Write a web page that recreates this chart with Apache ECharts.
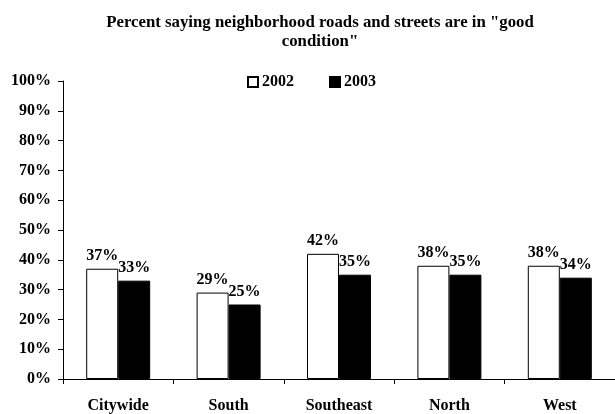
<!DOCTYPE html>
<html>
<head>
<meta charset="utf-8">
<script src="https://cdn.jsdelivr.net/npm/echarts@6/dist/echarts.min.js"></script>
<style>
  html, body { margin: 0; padding: 0; background: #fff; }
  #chart { width: 615px; height: 414px; }
</style>
</head>
<body>
<div id="chart"></div>
<script>
// Neighborhood survey: share rating roads and streets as "good condition"
const categories = ['Citywide', 'South', 'Southeast', 'North', 'West'];
const values2002 = [37, 29, 42, 38, 38];
const values2003 = [33, 25, 35, 35, 34];
const yTicks = [0, 10, 20, 30, 40, 50, 60, 70, 80, 90, 100];

const serif = '"Liberation Serif", "Times New Roman", serif';

const chart = echarts.init(document.getElementById('chart'));

const labelStyle = {
  show: true,
  position: 'top',
  distance: 5,
  formatter: p => p.value + '%',
  fontFamily: serif,
  fontWeight: 'bold',
  fontSize: 16,
  color: '#000'
};

chart.setOption({
  animation: false,
  title: {
    text: 'Percent saying neighborhood roads and streets are in "good\ncondition"',
    left: 315,
    textAlign: 'center',
    top: 8,
    textStyle: {
      fontFamily: serif,
      fontWeight: 'bold',
      fontSize: 16.8,
      lineHeight: 19,
      color: '#000'
    }
  },
  legend: {
    data: ['2002', '2003'],
    left: 242,
    top: 69,
    itemWidth: 10,
    itemHeight: 10,
    itemGap: 35,
    icon: 'rect',
    textStyle: {
      fontFamily: serif,
      fontWeight: 'bold',
      fontSize: 16,
      color: '#000',
      padding: [0, 0, 0, -1]
    }
  },
  grid: {
    left: 63,
    top: 81,
    width: 555,
    height: 301,
    containLabel: false
  },
  xAxis: {
    type: 'category',
    data: categories,
    boundaryGap: true,
    axisLine: { lineStyle: { color: '#000', width: 1 } },
    axisTick: { show: true, alignWithLabel: false, length: 5, lineStyle: { color: '#000' } },
    axisLabel: {
      margin: 19,
      fontFamily: serif,
      fontWeight: 'bold',
      fontSize: 16,
      color: '#000'
    }
  },
  yAxis: {
    type: 'value',
    min: yTicks[0],
    max: yTicks[yTicks.length - 1],
    interval: 10,
    splitLine: { show: false },
    axisLine: { show: true, lineStyle: { color: '#000', width: 1 } },
    axisTick: { show: true, length: 5, lineStyle: { color: '#000' } },
    axisLabel: {
      margin: 12,
      formatter: v => v + '%',
      fontFamily: serif,
      fontWeight: 'bold',
      fontSize: 16,
      color: '#000'
    }
  },
  series: [
    {
      name: '2002',
      type: 'bar',
      data: values2002,
      barWidth: 32,
      barGap: '0%',
      itemStyle: { color: '#fff', borderColor: '#000', borderWidth: 1 },
      label: labelStyle
    },
    {
      name: '2003',
      type: 'bar',
      data: values2003,
      barWidth: 32,
      barGap: '0%',
      itemStyle: { color: '#000', borderColor: '#000', borderWidth: 1 },
      label: labelStyle
    }
  ]
});
</script>
</body>
</html>
